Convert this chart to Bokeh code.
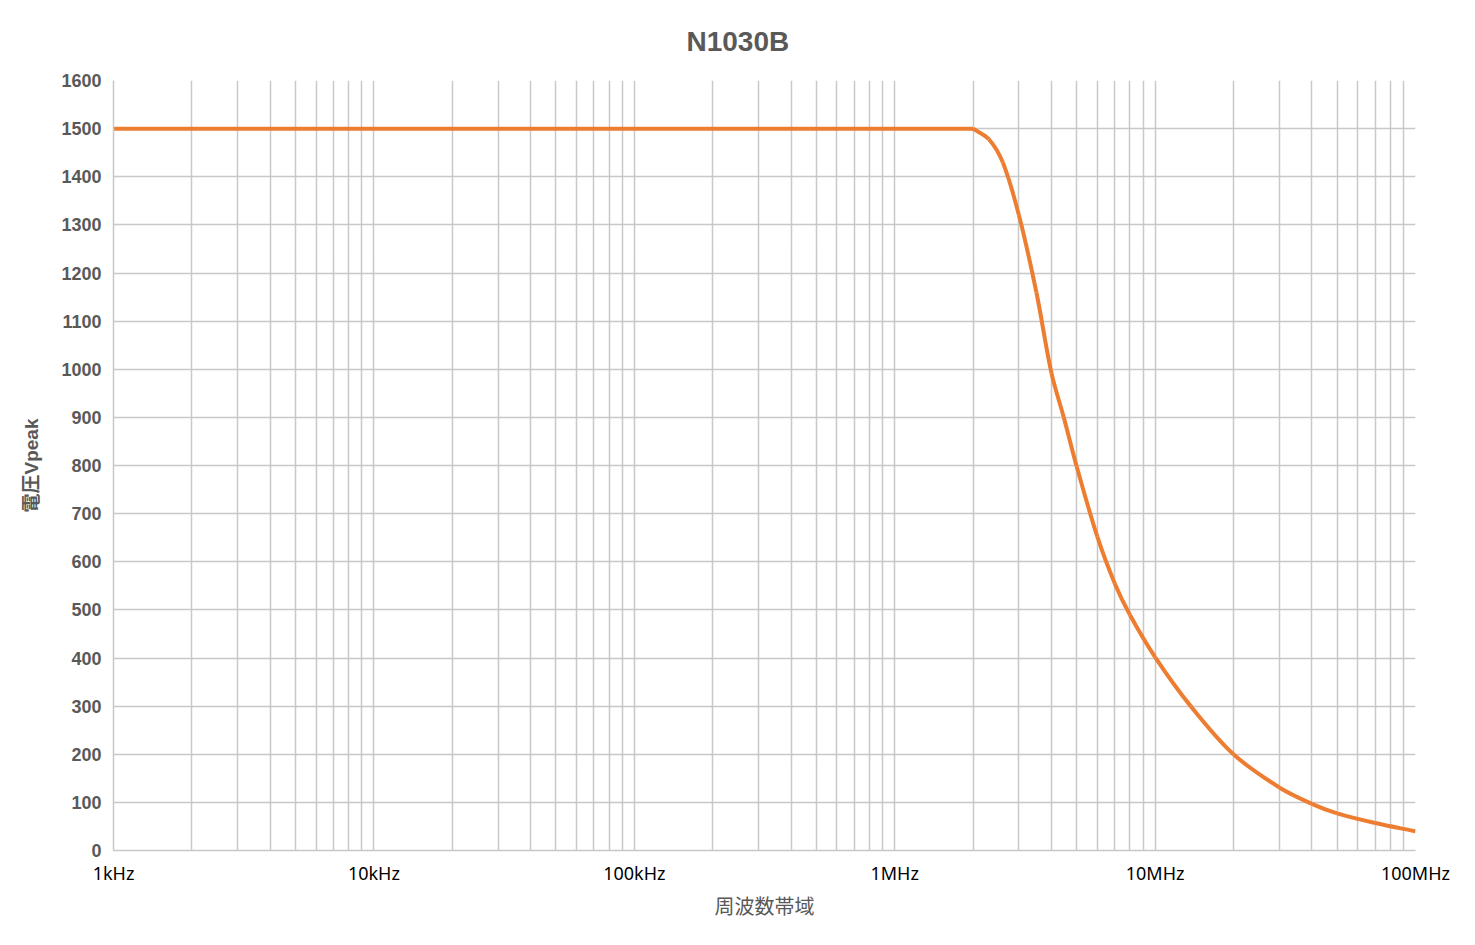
import math
from bokeh.plotting import figure
from bokeh.models import Range1d, FixedTicker, CustomJSTickFormatter, Title
from bokeh.embed import file_html
from bokeh.resources import INLINE

# ---- data ----
freq_mhz = [0.001, 2, 2.3, 2.6, 3, 3.5, 4, 4.46, 5, 6, 7, 8, 10,
            13.7, 20, 30, 40, 50, 70, 100]
volt_peak = [1500, 1500, 1478, 1430, 1320, 1160, 992, 900, 798, 652, 555, 490, 402,
             300, 200, 131, 97, 77, 57, 40]

x_tick_values = [1e3, 1e4, 1e5, 1e6, 1e7, 1e8]
x_tick_labels = ["1kHz", "10kHz", "100kHz", "1MHz", "10MHz", "100MHz"]
y_ticks = list(range(0, 1700, 100))

title_text = "N1030B"
x_label = "周波数帯域"
y_label = "電圧Vpeak"

X_MIN, X_MAX, Y_MIN, Y_MAX = 1e3, 1e8, 0, 1600
W, H = 1459, 929
BL, BR, BT, BB = 113, 44, 80, 79
FW, FH = W - BL - BR, H - BT - BB

freq_hz = [f * 1e6 for f in freq_mhz]
grid_ticks = [m * d for d in [1e3, 1e4, 1e5, 1e6, 1e7] for m in range(1, 10)] + [1e8]

# ---- smooth curve (drawn as cubic Beziers through the read points, in screen-proportional space) ----
lx0, lx1 = math.log10(X_MIN), math.log10(X_MAX)
def to_s(f, v):
    return ((math.log10(f) - lx0) / (lx1 - lx0) * FW, (v - Y_MIN) / (Y_MAX - Y_MIN) * FH)
def from_s(u, w):
    return (10 ** (u / FW * (lx1 - lx0) + lx0), w / FH * (Y_MAX - Y_MIN) + Y_MIN)

# flat part up to the knee, curved part after it
knee = 1
pts = [to_s(f, v) for f, v in zip(freq_hz[knee:], volt_peak[knee:])]
n = len(pts)
def unit(a, b):
    dx, dy = b[0] - a[0], b[1] - a[1]
    L = math.hypot(dx, dy) or 1.0
    return dx / L, dy / L
tangents = []
for i in range(n):
    if i == 0:
        tangents.append(unit(pts[0], pts[1]))
    elif i == n - 1:
        tangents.append(unit(pts[n - 2], pts[n - 1]))
    else:
        tangents.append(unit(pts[i - 1], pts[i + 1]))
bx0, by0, bx1, by1, cx0, cy0, cx1, cy1 = ([] for _ in range(8))
for i in range(n - 1):
    a, b = pts[i], pts[i + 1]
    L = math.hypot(b[0] - a[0], b[1] - a[1]) / 3.0
    c1 = (a[0] + tangents[i][0] * L, a[1] + tangents[i][1] * L)
    c2 = (b[0] - tangents[i + 1][0] * L, b[1] - tangents[i + 1][1] * L)
    for (u, w), xs, ys in ((a, bx0, by0), (b, bx1, by1), (c1, cx0, cy0), (c2, cx1, cy1)):
        fx, fy = from_s(u, w)
        xs.append(fx)
        ys.append(fy)

p = figure(width=W, height=H, x_axis_type="log",
           x_range=Range1d(X_MIN, X_MAX), y_range=Range1d(Y_MIN, Y_MAX),
           output_backend="svg", toolbar_location=None,
           min_border_left=BL, min_border_right=BR,
           min_border_top=BT, min_border_bottom=BB)
p.title = None
p.add_layout(Title(text=title_text, align="left", offset=573,
                   text_font="Liberation Sans", text_font_size="28px",
                   text_font_style="bold", text_color="#595959",
                   text_line_height=0.5, standoff=47), "above")

p.outline_line_color = None
p.background_fill_color = "white"
p.border_fill_color = "white"

grid_color = "#c8c8c8"
p.xgrid.ticker = FixedTicker(ticks=grid_ticks)
p.xgrid.grid_line_color = grid_color
p.xgrid.grid_line_width = 1.5
p.ygrid.ticker = FixedTicker(ticks=y_ticks)
p.ygrid.grid_line_color = grid_color
p.ygrid.grid_line_width = 1.5

# x axis
xa = p.xaxis[0]
xa.ticker = FixedTicker(ticks=x_tick_values, minor_ticks=[])
xa.formatter = CustomJSTickFormatter(
    args=dict(vals=x_tick_values, labs=x_tick_labels),
    code="""
    for (let i = 0; i < vals.length; i++) {
        if (Math.abs(Math.log10(tick) - Math.log10(vals[i])) < 1e-6) return labs[i];
    }
    return "";
    """)
xa.axis_line_color = grid_color
xa.axis_line_width = 1.5
xa.major_tick_line_color = None
xa.minor_tick_line_color = None
xa.major_label_text_font = "Noto Sans"
xa.major_label_text_font_size = "18px"
xa.major_label_text_color = "#000000"
xa.major_label_standoff = 4
xa.axis_label = x_label
xa.axis_label_text_font = "Noto Sans CJK JP"
xa.axis_label_text_font_size = "20px"
xa.axis_label_text_font_style = "normal"
xa.axis_label_text_color = "#595959"
xa.axis_label_standoff = 3

# y axis
ya = p.yaxis[0]
ya.ticker = FixedTicker(ticks=y_ticks, minor_ticks=[])
ya.axis_line_color = grid_color
ya.axis_line_width = 1.5
ya.major_tick_line_color = None
ya.minor_tick_line_color = None
ya.major_label_text_font = "Liberation Sans"
ya.major_label_text_font_size = "18px"
ya.major_label_text_font_style = "bold"
ya.major_label_text_color = "#595959"
ya.major_label_standoff = 6
ya.axis_label = y_label
ya.axis_label_text_font = "Liberation Sans, Noto Sans CJK JP"
ya.axis_label_text_font_size = "19px"
ya.axis_label_text_font_style = "bold"
ya.axis_label_text_color = "#595959"
ya.axis_label_standoff = 16

line_color = "#ED7D31"
p.line(freq_hz[:knee + 1], volt_peak[:knee + 1], line_color=line_color, line_width=4, line_join="round")
p.bezier(x0=bx0, y0=by0, x1=bx1, y1=by1, cx0=cx0, cy0=cy0, cx1=cx1, cy1=cy1,
         line_color=line_color, line_width=4)

open("out.html", "w").write(file_html(p, INLINE))
